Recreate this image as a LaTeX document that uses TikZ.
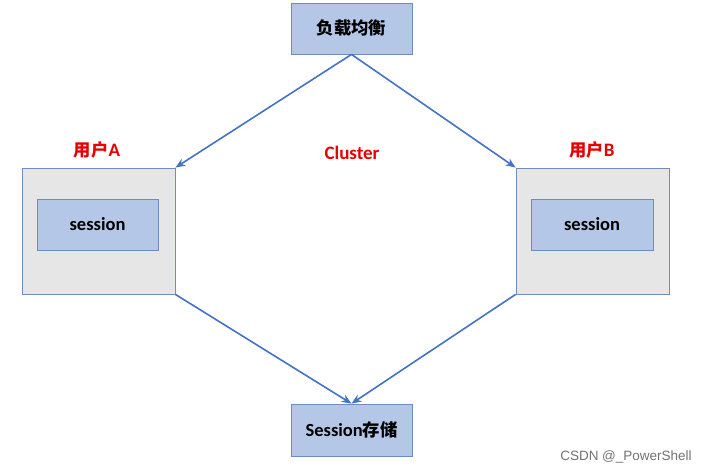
\documentclass[tikz,border=0pt]{standalone}
\usepackage{fontspec}
\setmainfont{Carlito}
\newfontfamily\cjk{Noto Sans CJK SC}
\newfontfamily\wmfont{Liberation Sans}
\usetikzlibrary{arrows.meta}
\definecolor{boxblue}{RGB}{180,199,231}
\definecolor{boxedge}{RGB}{110,140,190}
\definecolor{greyfill}{RGB}{231,230,230}
\definecolor{arrowblue}{RGB}{68,114,196}
\definecolor{lblred}{RGB}{230,0,0}
\newcommand{\cjkbig}{\cjk\fontsize{17.3}{20}\selectfont}
\tikzset{
  bluebox/.style={draw=boxedge, line width=0.8pt, fill=boxblue, minimum width=121pt, minimum height=51pt, inner sep=0pt, font=\bfseries\fontsize{18.5}{22}\selectfont},
  greybox/.style={draw=boxedge, line width=0.8pt, fill=greyfill, minimum width=153pt, minimum height=126pt, inner sep=0pt},
  conn/.style={draw=arrowblue, line width=1.6pt, -{Stealth[length=10pt,width=8pt]}},
  redlbl/.style={text=lblred, font=\bfseries\fontsize{19}{22}\selectfont},
}
\begin{document}
\begin{tikzpicture}[x=1pt,y=-1pt]
\useasboundingbox[fill=white] (0,0) rectangle (703,472);
\node[bluebox] (lb) at (351.5,28.5) {\cjkbig 负载均衡};
\node[greybox] (ua) at (98.5,231) {};
\node[bluebox, minimum width=121pt] (sa) at (97.5,224.5) {session};
\node[greybox] (ub) at (592.5,231) {};
\node[bluebox, minimum width=122pt] (sb) at (592,224.5) {session};
\node[bluebox, minimum height=52pt] (st) at (351.5,430) {Session{\cjkbig 存储}};
\node[redlbl] (la) at (97,150) {{\cjkbig 用户}A};
\node[redlbl] (lbB) at (592,150) {{\cjkbig 用户}B};
\node[redlbl] (cl) at (352,153) {Cluster};
\draw[conn] (lb.south) -- (ua.north east);
\draw[conn] (lb.south) -- (ub.north west);
\draw[conn] (ua.south east) -- (st.north);
\draw[conn] (ub.south west) -- (st.north);
\node[text=black!55, font=\wmfont\fontsize{13.5}{16}\selectfont] (wm) at (626,457) {CSDN @\_PowerShell};
\end{tikzpicture}
\end{document}
